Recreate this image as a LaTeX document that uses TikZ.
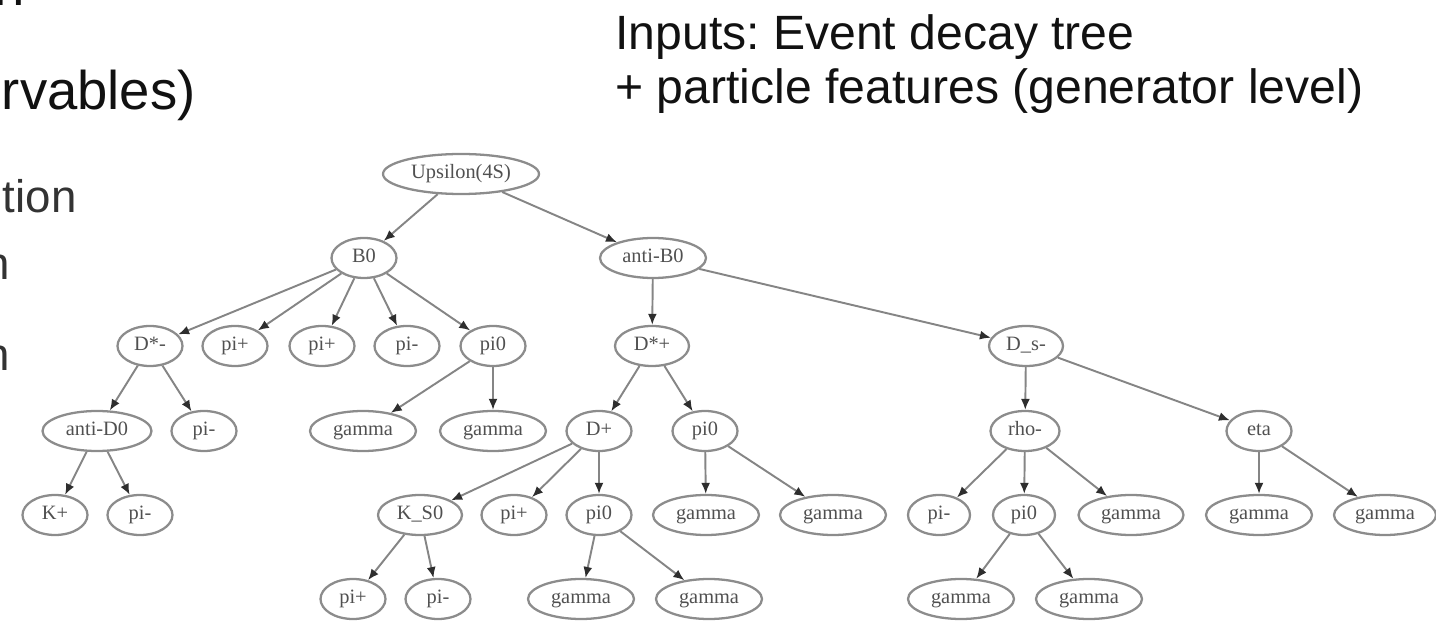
\documentclass[tikz,border=0pt]{standalone}
\usepackage{fontspec}
\setmainfont{Liberation Sans}
\newfontfamily\treefont{Liberation Serif}
\usetikzlibrary{arrows.meta,shapes.geometric}
\definecolor{treeline}{HTML}{8C8C8C}
\definecolor{treeedge}{HTML}{858585}
\definecolor{treehead}{HTML}{2E2E2E}
\definecolor{treetext}{HTML}{505050}
\definecolor{slideink}{HTML}{111111}
\definecolor{slidegray}{HTML}{333333}
\frenchspacing
\tikzset{
  particle/.style={draw=treeline,ellipse,line width=1.3pt,inner sep=0pt,
    minimum width=#1,minimum height=0.8cm,text=treetext,text height=0.7em,text depth=0.2em,
    font=\treefont\fontsize{11.6}{13}\selectfont},
  particle/.default=1.3cm,
  decay/.style={draw=treeedge,line width=1.1pt,-{Latex[length=2.2mm,width=1.8mm,color=treehead]}},
  slidetext/.style={inner sep=0pt,text=slideink,font=\fontsize{27.4}{31}\selectfont},
  slidebig/.style={inner sep=0pt,text=slideink,font=\fontsize{31}{36}\selectfont},
  slidecut/.style={inner sep=0pt,text=slidegray,font=\fontsize{26}{30}\selectfont},
}

\begin{document}
\begin{tikzpicture}[x=0.02cm,y=-0.02cm]
  \path[use as bounding box,clip] (0,0) rectangle (1436,624);
  % cut-off slide text on the left
  \node[slidebig,anchor=base east] (cuta) at (25,6) {n};
  \node[slidebig,anchor=base east] (cutb) at (196,110) {rvables)};
  \node[slidecut,anchor=base east] (cutc) at (77,213) {tion};
  \node[slidecut,anchor=base east] (cutd) at (10,280) {n};
  \node[slidecut,anchor=base east] (cute) at (10,371) {n};
  % heading
  \node[slidetext,anchor=base west] (title1) at (615,50) {Inputs: Event decay tree};
  \node[slidetext,anchor=base west] (title2) at (615,104) {+ particle features (generator level)};
  % decay tree
  \node[particle=3.12cm] (ups) at (461,174) {Upsilon(4S)};
  \node[particle] (b0) at (364,258) {B0};
  \node[particle=2.12cm] (antib0) at (653,258) {anti-B0};
  \foreach \n/\x/\w/\t in {dstm/150/1.3cm/D*-,pipa/235/1.3cm/pi+,pipb/322/1.3cm/pi+,
      pima/407/1.3cm/pi-,piza/493/1.3cm/pi0,dstp/652/1.48cm/D*+,dsm/1026/1.48cm/D\_s-}
    {\node[particle=\w] (\n) at (\x,346) {\t};}
  \foreach \n/\x/\w/\t in {antid0/97/2.18cm/anti-D0,pimb/204/1.3cm/pi-,gama/363/2.12cm/gamma,
      gamb/493/2.12cm/gamma,dp/599/1.3cm/D+,pizb/705/1.3cm/pi0,rhom/1025/1.38cm/rho-,eta/1259/1.3cm/eta}
    {\node[particle=\w] (\n) at (\x,431) {\t};}
  \foreach \n/\x/\w/\t in {kp/55/1.3cm/K+,pimc/140/1.3cm/pi-,ks0/420/1.68cm/K\_S0,pipc/514/1.3cm/pi+,
      pizc/599/1.3cm/pi0,gamc/706/2.12cm/gamma,gamd/833/2.12cm/gamma,pimd/939/1.24cm/pi-,
      pizd/1024/1.24cm/pi0,game/1131/2.1cm/gamma,gamf/1259/2.12cm/gamma,gamg/1385/2.04cm/gamma}
    {\node[particle=\w] (\n) at (\x,515) {\t};}
  \foreach \n/\x/\w/\t in {pipd/353/1.3cm/pi+,pime/438/1.3cm/pi-,gamh/581/2.12cm/gamma,
      gami/709/2.12cm/gamma,gamj/961/2.12cm/gamma,gamk/1089/2.12cm/gamma}
    {\node[particle=\w] (\n) at (\x,599) {\t};}
  \foreach \a/\b in {ups/b0,ups/antib0,b0/dstm,b0/pipa,b0/pipb,b0/pima,b0/piza,
      antib0/dstp,antib0/dsm,dstm/antid0,dstm/pimb,piza/gama,piza/gamb,dstp/dp,dstp/pizb,
      dsm/rhom,dsm/eta,antid0/kp,antid0/pimc,dp/ks0,dp/pipc,dp/pizc,pizb/gamc,pizb/gamd,
      rhom/pimd,rhom/pizd,rhom/game,eta/gamf,eta/gamg,ks0/pipd,ks0/pime,pizc/gamh,pizc/gami,
      pizd/gamj,pizd/gamk}
    {\draw[decay] (\a)--(\b);}
\end{tikzpicture}
\end{document}
